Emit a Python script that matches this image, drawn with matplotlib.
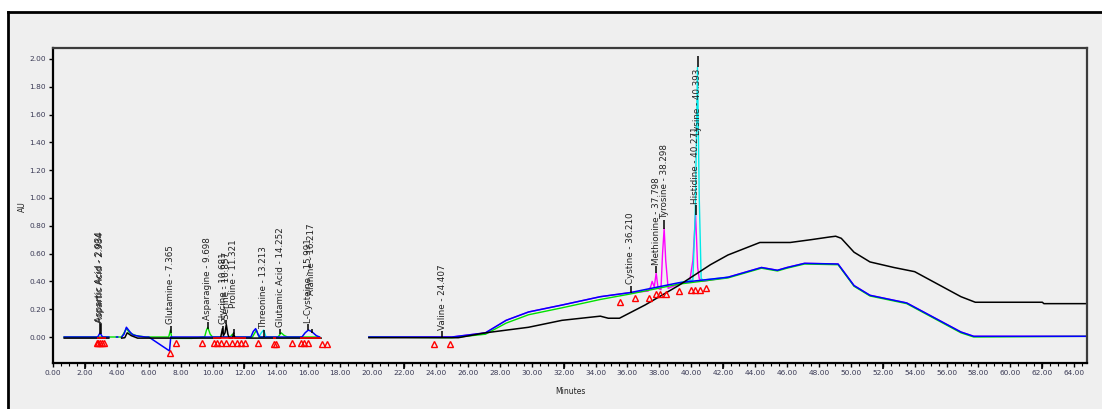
import numpy as np
import matplotlib
matplotlib.use("Agg")
import matplotlib.pyplot as plt
from matplotlib.patches import Rectangle
from matplotlib.lines import Line2D
from matplotlib.ticker import MultipleLocator, FormatStrFormatter

nan = np.nan

# black channel (time in minutes, AU)
black_t = [0.7, 3.5, nan, 4.3, 4.5, 4.65, 4.9, 5.3, 10.5, 10.62, 10.68, 10.78, 10.86, 10.96, 11.05, 11.25,
           11.32, 11.4, 16.8, nan, 19.8, 25.4, 27.1, 29.8, 31.9, 34.3, 34.8, 35.5, 37.1, 39.2, 41.2, 42.3,
           44.3, 46.2, 47.5, 48.7, 49.05, 49.4, 50.2, 51.2, 52.7, 54.0, 56.9, 57.8, 62.0, 62.1, 64.8]
black_v = [-0.008, -0.008, nan, -0.008, -0.005, 0.03, 0.01, -0.008, -0.008, 0.06, 0.01, 0.03, 0.09, 0.02,
           -0.008, -0.008, 0.03, -0.008, -0.008, nan, -0.005, -0.005, 0.03, 0.07, 0.12, 0.15, 0.135, 0.135,
           0.23, 0.37, 0.52, 0.59, 0.68, 0.68, 0.70, 0.72, 0.725, 0.71, 0.61, 0.54, 0.50, 0.47, 0.29, 0.25,
           0.25, 0.24, 0.24]

# blue channel
blue_t = [0.7, 2.8, 2.95, 3.1, 3.5, nan, 3.98, 4.05, nan, 4.3, 4.45, 4.6, 4.8, 5.0, 5.4, 5.8, 6.0, 7.3,
          7.38, 7.45, 12.4, 12.55, 12.7, 12.85, 12.95, 15.6, 15.8, 16.0, 16.2, 16.5, 16.7, nan, 19.8, 25.0,
          27.1, 28.4, 29.8, 31.9, 34.3, 36.2, 39.2, 42.3, 44.4, 45.4, 46.0, 47.1, 49.2, 50.2, 51.2, 53.5,
          56.9, 57.7, 64.8]
blue_v = [0.0, 0.0, 0.03, 0.0, 0.0, nan, 0.0, 0.0, nan, 0.0, 0.02, 0.07, 0.04, 0.015, 0.005, 0.0, 0.0,
          -0.10, 0.0, 0.0, 0.0, 0.04, 0.06, 0.02, 0.0, 0.0, 0.03, 0.05, 0.04, 0.01, 0.0, nan, 0.0, 0.0,
          0.03, 0.12, 0.18, 0.23, 0.29, 0.32, 0.39, 0.43, 0.50, 0.48, 0.50, 0.53, 0.525, 0.37, 0.30, 0.245,
          0.036, 0.005, 0.005]

# green channel
green_t = [0.7, 4.3, 4.6, 4.8, 5.2, 5.8, 7.25, 7.36, 7.45, 8.7, 9.5, 9.62, 9.7, 9.85, 10.0, 11.1, 11.25,
           11.4, 12.5, 12.75, 12.9, 14.1, 14.3, 14.5, 14.7, 16.7, nan, 19.8, 25.0, 27.1, 28.4, 29.8, 31.9,
           34.3, 36.2, 39.2, 42.3, 44.4, 45.4, 46.0, 47.1, 49.2, 50.2, 51.2, 53.5, 56.9, 57.7, 64.8]
green_v = [0.0, 0.0, 0.06, 0.03, 0.01, 0.0, 0.0, 0.05, -0.01, -0.01, 0.0, 0.05, 0.07, 0.02, 0.0, 0.0,
           0.02, 0.0, 0.0, 0.05, 0.0, 0.0, 0.03, 0.01, 0.0, 0.0, nan, 0.0, -0.005, 0.02, 0.10, 0.16, 0.21,
           0.27, 0.31, 0.38, 0.425, 0.495, 0.475, 0.495, 0.525, 0.52, 0.365, 0.295, 0.24, 0.03, 0.0, 0.005]

# magenta channel
magenta_t = [19.8, 25.0, 27.1, 28.4, 29.8, 31.9, 34.3, 36.2, 37.3, 37.45, 37.55, 37.68, 37.8, 37.92, 38.1,
             38.2, 38.3, 38.4, 38.55, 39.2, 39.9, 40.1, 40.27, 40.4, 40.5, 40.7, 42.3, 44.4, 45.4, 46.0,
             47.1, 49.2, 50.2, 51.2, 53.5, 56.9, 57.7, 64.8]
magenta_v = [0.0, 0.0, 0.03, 0.12, 0.18, 0.23, 0.29, 0.32, 0.33, 0.36, 0.40, 0.36, 0.46, 0.35, 0.34, 0.60,
             0.78, 0.55, 0.35, 0.38, 0.40, 0.55, 0.88, 0.50, 0.42, 0.40, 0.43, 0.50, 0.48, 0.50, 0.53, 0.525,
             0.37, 0.30, 0.245, 0.036, 0.005, 0.005]

# cyan channel
cyan_t = [12.9, 13.05, 13.2, 13.35, nan, 39.2, 40.1, 40.25, 40.39, 40.5, 40.62, 40.75, 42.3]
cyan_v = [0.0, 0.03, 0.05, 0.0, nan, 0.39, 0.41, 0.9, 1.94, 1.0, 0.42, 0.41, 0.43]

# peak names, retention times, apex height and label base
peak_names = ["Aspartic Acid - 2.934", "Aspartic Acid - 2.984", "Glutamine - 7.365", "Asparagine - 9.698",
              "Glycine - 10.681", "Serine - 10.857", "Proline - 11.321", "Threonine - 13.213",
              "Glutamic Acid - 14.252", "L-Cysteine - 15.991", "Alanine - 16.217", "Valine - 24.407",
              "Cystine - 36.210", "Methionine - 37.798", "Tyrosine - 38.298", "Histidine - 40.271",
              "Lysine - 40.393"]
peak_rt = [2.934, 2.984, 7.365, 9.698, 10.681, 10.857, 11.321, 13.213, 14.252, 15.991, 16.217, 24.407,
           36.210, 37.798, 38.298, 40.271, 40.393]
peak_lo = [0.02, 0.02, 0.03, 0.06, 0.03, 0.09, 0.02, 0.0, 0.02, 0.05, 0.03, 0.0,
           0.32, 0.46, 0.78, 0.88, 1.94]
peak_hi = [0.10, 0.09, 0.08, 0.11, 0.08, 0.12, 0.06, 0.05, 0.06, 0.09, 0.06, 0.04,
           0.37, 0.51, 0.84, 0.95, 2.02]
label_y = [0.11, 0.10, 0.09, 0.12, 0.09, 0.13, 0.21, 0.06, 0.07, 0.10, 0.30, 0.05,
           0.38, 0.52, 0.85, 0.96, 1.93]

# integration start/stop markers
tri_t = [2.75, 2.85, 2.95, 3.05, 3.2, 7.32, 7.72, 9.35, 10.1, 10.3, 10.55, 10.85, 11.2, 11.5, 11.8, 12.05,
         12.85, 13.85, 13.95, 14.95, 15.55, 15.75, 15.95, 16.85, 17.15, 23.85, 24.85,
         35.55, 36.5, 37.35, 37.8, 38.05, 38.4, 39.2, 40.0, 40.25, 40.55, 40.9]
tri_y = [-0.045, -0.045, -0.045, -0.045, -0.045, -0.115, -0.045, -0.045, -0.045, -0.045, -0.045, -0.045,
         -0.045, -0.045, -0.045, -0.045, -0.045, -0.05, -0.05, -0.045, -0.045, -0.045, -0.045, -0.05,
         -0.05, -0.05, -0.05, 0.25, 0.28, 0.28, 0.31, 0.31, 0.31, 0.33, 0.34, 0.34, 0.34, 0.35]

# drawn integration baselines
base_start = [2.75, 10.0, 13.8, 15.5]
base_end = [3.3, 12.1, 14.0, 16.8]

x_major = np.arange(0, 65, 2)
x_long = np.arange(2, 65, 10)

fig = plt.figure(figsize=(11.02, 4.09), dpi=100)
fig.patch.set_facecolor("white")
W, H = 1102.0, 409.0
fig.add_artist(Rectangle((8 / W, 0), 1 - 8 / W, 1 - 12 / H, transform=fig.transFigure,
                         facecolor="#efefef", edgecolor="none", zorder=-10))
fig.add_artist(Line2D([8 / W, 1], [1 - 12 / H] * 2, transform=fig.transFigure, color="black", lw=2))
fig.add_artist(Line2D([8 / W] * 2, [0, 1 - 12 / H], transform=fig.transFigure, color="black", lw=2))

ax = fig.add_axes([53 / W, 1 - 363 / H, (1087 - 53) / W, (363 - 48) / H])
ax.set_facecolor("#efefef")

ax.plot(magenta_t, magenta_v, color="#ff00ff", lw=1.0)
ax.plot(green_t, green_v, color="#00e000", lw=1.0)
ax.plot(cyan_t, cyan_v, color="#00e8e8", lw=1.0)
ax.plot(blue_t, blue_v, color="#0000ff", lw=1.1)
ax.plot(black_t, black_v, color="black", lw=1.1)

ax.hlines([-0.008] * len(base_start), base_start, base_end, color="red", lw=1.2)
ax.plot(tri_t, tri_y, ls="none", marker="^", ms=5, mfc="none", mec="red", mew=1.0)

ax.vlines(peak_rt, peak_lo, peak_hi, color="black", lw=1.1)
for name, rt, y in zip(peak_names, peak_rt, label_y):
    va = "top" if y > 1.5 else "bottom"
    ax.text(rt, y, name, rotation=90, ha="center", va=va, fontsize=6.3,
            family="DejaVu Sans", color="#222222")

ax.set_xlim(0, 64.8)
ax.set_ylim(-0.187, 2.079)
ax.set_xticks(x_major)
ax.xaxis.set_minor_locator(MultipleLocator(0.5))
ax.xaxis.set_major_formatter(FormatStrFormatter("%.2f"))
ax.set_yticks(np.arange(0, 2.01, 0.2))
ax.yaxis.set_major_formatter(FormatStrFormatter("%.2f"))
ax.tick_params(axis="both", which="major", labelsize=5.3, length=3, width=1, colors="black",
               labelcolor="#3a3a55", pad=2)
ax.tick_params(axis="x", which="minor", length=2, width=0.8)
ax.vlines(x_long, 0, -0.02, transform=ax.get_xaxis_transform(), color="black", lw=1.2, clip_on=False)

for s in ["left", "bottom"]:
    ax.spines[s].set_linewidth(1.6)
    ax.spines[s].set_color("black")
for s in ["top", "right"]:
    ax.spines[s].set_linewidth(1.6)
    ax.spines[s].set_color("#3c3c3c")

ax.set_xlabel("Minutes", fontsize=5.5, color="#222222")
ax.xaxis.set_label_coords(0.5, -(387 - 363) / 315.0)
ax.set_ylabel("AU", fontsize=5.5, color="#222222")
ax.yaxis.set_label_coords(-(53 - 27) / 1034.0, (363 - 207) / 315.0)

fig.savefig("out.png", dpi=100)
